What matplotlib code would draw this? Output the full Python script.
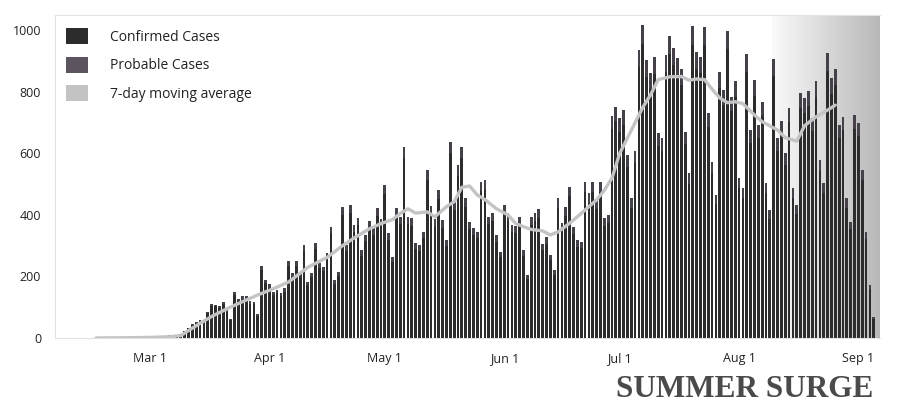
import numpy as np
import pandas as pd
import matplotlib
matplotlib.use("Agg")
import matplotlib.pyplot as plt
import matplotlib.dates as mdates
from matplotlib.patches import Patch

# ---------------- data ----------------
start_date = "2020-02-16"
# total daily cases (confirmed + probable), Feb 16 .. Sep 5
total_early = [0, 0, 0, 1, 0, 1, 2, 1, 2, 3, 2, 4, 3, 5, 4, 6, 5, 8, 6, 9, 10, 8]
total_mar = [12, 22, 32, 45, 52, 58, 60, 85, 110, 108, 105, 118, 90, 62, 148, 128,
             135, 138, 120, 118, 78, 235, 190, 175]
total_apr = [150, 156, 146, 162, 250, 211, 250, 211, 302, 183, 211, 310, 243, 232, 276,
             362, 188, 216, 426, 302, 432, 367, 390, 286, 335, 381, 356, 421, 387, 497]
total_may = [340, 264, 421, 394, 622, 394, 389, 310, 302, 346, 546, 429, 386, 481, 383,
             318, 638, 443, 562, 622, 454, 378, 356, 346, 508, 514, 394, 405, 335, 281, 432]
total_jun = [405, 367, 364, 392, 286, 205, 394, 405, 418, 305, 329, 270, 221, 454, 373,
             425, 492, 362, 318, 313, 508, 470, 508, 449, 508, 389, 400, 722, 750, 714, 740]
total_summer = [595, 454, 608, 936, 1017, 903, 860, 914, 665, 649, 920, 982, 942, 909, 876,
                670, 535, 1014, 930, 914, 1012, 730, 573, 465, 864, 806, 998, 784, 834, 519,
                486, 922, 676, 838, 692, 768, 503, 416, 906, 649, 705, 600, 749, 486, 432,
                795, 779, 803, 714, 835, 578, 503, 925, 844, 876, 692, 719, 454, 378, 725,
                698, 546, 345, 172, 69]

probable_early = [0] * 22
probable_mar = [0, 0, 1, 2, 2, 3, 3, 4, 5, 5, 6, 6, 5, 4, 8, 7, 8, 9, 8, 8, 6, 14, 12, 11]
probable_apr = [10, 11, 10, 12, 16, 14, 16, 14, 20, 12, 14, 20, 16, 15, 18, 22, 12, 14, 26,
                20, 26, 22, 24, 18, 20, 24, 22, 26, 24, 30]
probable_may = [22, 18, 26, 24, 36, 24, 24, 20, 20, 22, 32, 26, 24, 30, 24, 20, 38, 28, 34,
                36, 28, 24, 22, 22, 30, 32, 24, 26, 22, 18, 26]
probable_jun = [26, 24, 24, 26, 20, 14, 26, 26, 28, 20, 22, 18, 16, 30, 24, 28, 32, 24, 22,
                22, 32, 30, 32, 30, 32, 26, 26, 44, 46, 44, 46]
probable_summer = [38, 30, 38, 56, 60, 54, 52, 56, 40, 40, 56, 58, 56, 54, 52, 40, 34, 60,
                   56, 54, 60, 44, 36, 30, 52, 48, 58, 46, 50, 32, 30, 56, 42, 52, 42, 46,
                   32, 28, 54, 40, 42, 38, 46, 30, 28, 48, 46, 48, 42, 50, 36, 32, 56, 50,
                   52, 42, 44, 30, 24, 44, 42, 34, 22, 12, 6]

avg_dates = ["2020-02-16", "2020-02-25", "2020-03-01", "2020-03-06", "2020-03-09",
             "2020-03-13", "2020-03-17", "2020-03-21", "2020-03-25", "2020-03-29",
             "2020-04-02", "2020-04-06", "2020-04-11", "2020-04-16", "2020-04-20",
             "2020-04-23", "2020-04-27", "2020-04-30", "2020-05-03", "2020-05-05",
             "2020-05-07", "2020-05-09", "2020-05-12", "2020-05-14", "2020-05-17",
             "2020-05-19", "2020-05-21", "2020-05-23", "2020-05-25", "2020-05-27",
             "2020-05-30", "2020-06-02", "2020-06-04", "2020-06-06", "2020-06-08",
             "2020-06-11", "2020-06-13", "2020-06-15", "2020-06-18", "2020-06-21",
             "2020-06-23", "2020-06-25", "2020-06-27", "2020-06-29", "2020-07-01",
             "2020-07-03", "2020-07-05", "2020-07-07", "2020-07-09", "2020-07-11",
             "2020-07-14", "2020-07-17", "2020-07-19", "2020-07-21", "2020-07-23",
             "2020-07-25", "2020-07-27", "2020-07-29", "2020-07-31", "2020-08-02",
             "2020-08-05", "2020-08-07", "2020-08-11", "2020-08-13", "2020-08-16",
             "2020-08-18", "2020-08-21", "2020-08-24", "2020-08-26"]
avg_values = [0, 1, 2, 4, 8, 40, 70, 95, 118, 140, 160, 182, 230, 262, 300, 325, 355, 372,
              385, 405, 420, 406, 410, 394, 427, 443, 490, 494, 465, 450, 420, 400, 372, 362,
              353, 348, 335, 345, 373, 405, 427, 449, 480, 520, 600, 650, 700, 750, 790, 840,
              849, 850, 838, 842, 840, 809, 780, 765, 768, 762, 725, 703, 676, 651, 640, 690,
              719, 741, 757]

y_ticks = [0, 200, 400, 600, 800, 1000]
x_tick_dates = ["2020-03-01", "2020-04-01", "2020-05-01", "2020-06-01",
                "2020-07-01", "2020-08-01", "2020-09-01"]
x_tick_labels = ["Mar 1", "Apr 1", "May 1", "Jun 1", "Jul 1", "Aug 1", "Sep 1"]
legend_labels = ["Confirmed Cases", "Probable Cases", "7-day moving average"]
title_text = "SUMMER SURGE"

# ---------------- build ----------------
total = np.array(total_early + total_mar + total_apr + total_may + total_jun + total_summer,
                 dtype=float)
probable = np.array(probable_early + probable_mar + probable_apr + probable_may +
                    probable_jun + probable_summer, dtype=float)
confirmed = total - probable
dates = pd.date_range(start_date, periods=len(total), freq="D")
xd = mdates.date2num(dates.to_pydatetime())

c_conf = "#2c2c2c"
c_prob = "#454049"
c_prob_leg = "#5c5560"
c_avg = "#c4c4c4"

fig = plt.figure(figsize=(9.14, 4.03), dpi=100)
ax = fig.add_axes([55 / 914, 1 - 338 / 403, (880 - 55) / 914, (338 - 15) / 403])

mar1 = mdates.date2num(pd.Timestamp("2020-03-01").to_pydatetime())
px_per_day = 3.85
x_left = mar1 + (55 - 150) / px_per_day
x_right = mar1 + (880 - 150) / px_per_day
ax.set_xlim(x_left, x_right)
ax.set_ylim(0, 1050)

# scan shading on the right side
shade_l = mar1 + (772 - 150) / px_per_day
grad = np.linspace(0.98, 0.72, 256).reshape(1, -1)
ax.imshow(grad, extent=[shade_l, x_right, 0, 1050], aspect="auto", cmap="gray",
          vmin=0, vmax=1, zorder=0, interpolation="bilinear")

ax.bar(xd, confirmed, width=0.72, color=c_conf, zorder=2, linewidth=0)
ax.bar(xd, probable, width=0.72, bottom=confirmed, color=c_prob, zorder=2, linewidth=0)

ad = mdates.date2num(pd.to_datetime(avg_dates).to_pydatetime())
ax.plot(ad, avg_values, color=c_avg, lw=2.4, zorder=3, solid_capstyle="round",
        solid_joinstyle="round")

ax.set_yticks(y_ticks)
ax.set_yticklabels([str(v) for v in y_ticks], family=["Open Sans", "DejaVu Sans"],
                   fontsize=9, color="#222222")
xt = mdates.date2num(pd.to_datetime(x_tick_dates).to_pydatetime())
ax.set_xticks(xt)
ax.set_xticklabels(x_tick_labels, family=["Open Sans", "DejaVu Sans"], fontsize=9,
                   color="#222222")
ax.tick_params(axis="y", length=0, pad=10)
ax.tick_params(axis="x", length=0, pad=10)

for s in ["right"]:
    ax.spines[s].set_visible(False)
for s in ["left", "top", "bottom"]:
    ax.spines[s].set_color("#e2e2e2")
    ax.spines[s].set_linewidth(0.8)

handles = [Patch(facecolor=c_conf, edgecolor="none"),
           Patch(facecolor=c_prob_leg, edgecolor="none"),
           Patch(facecolor=c_avg, edgecolor="none")]
leg = ax.legend(handles, legend_labels, loc="upper left", bbox_to_anchor=(-0.002, 0.998),
                frameon=False, handlelength=1.6, handleheight=1.4, labelspacing=0.85,
                handletextpad=1.6, prop={"family": "Open Sans", "size": 10})
for t in leg.get_texts():
    t.set_color("#222222")

fig.text(873 / 914, 1 - 397 / 403, title_text, ha="right", va="baseline",
         family=["Liberation Serif", "DejaVu Serif"], fontsize=22.5, fontweight="bold",
         color="#4a4a4a")

fig.savefig("out.png", dpi=100)
